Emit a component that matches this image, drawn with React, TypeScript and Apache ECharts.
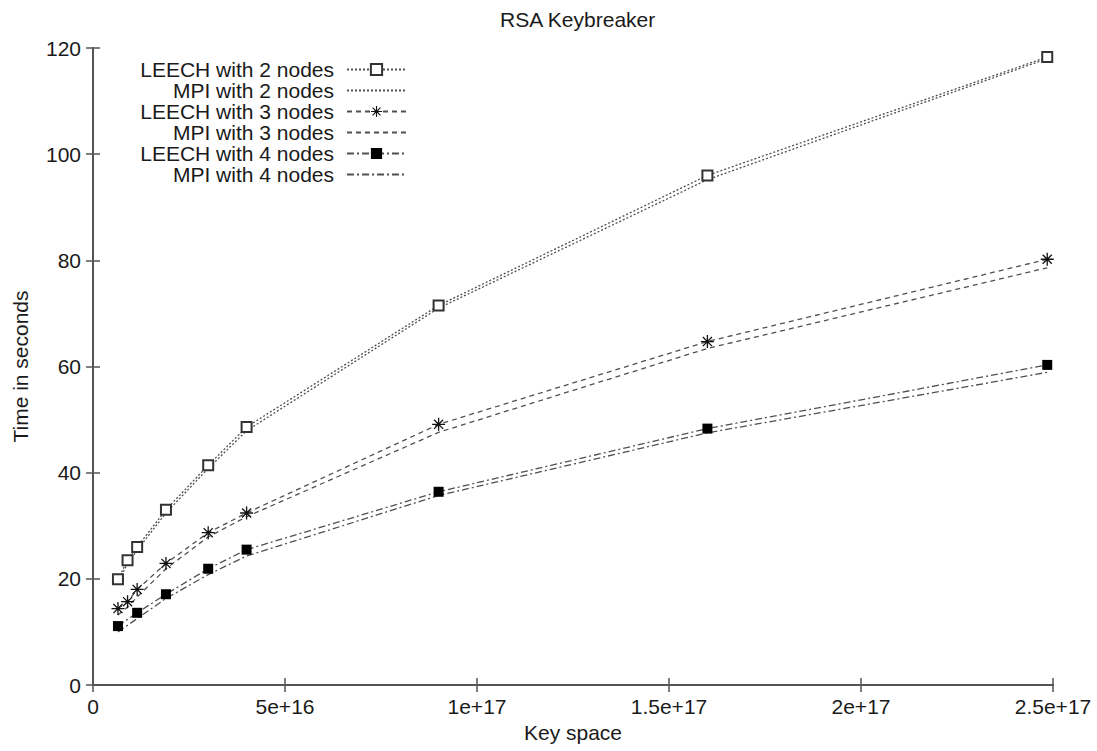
import React, { useEffect, useRef } from "react";
import * as echarts from "echarts";

const keySpace = [0.65e16, 0.9e16, 1.15e16, 1.9e16, 3.0e16, 4.0e16, 9.0e16, 1.6e17, 2.485e17];
const keySpace4 = [0.65e16, 1.15e16, 1.9e16, 3.0e16, 4.0e16, 9.0e16, 1.6e17, 2.485e17];
const leech2 = [19.9, 23.5, 26.0, 33.0, 41.4, 48.6, 71.5, 96.0, 118.3];
const mpi2 = [19.3, 22.9, 25.4, 32.4, 40.8, 47.9, 71.0, 95.2, 118.0];
const leech3 = [14.4, 15.7, 18.0, 22.9, 28.7, 32.4, 49.1, 64.7, 80.2];
const mpi3 = [13.2, 14.7, 16.6, 21.9, 27.9, 31.7, 47.6, 63.4, 78.6];
const leech4 = [11.1, 13.6, 17.1, 21.9, 25.5, 36.4, 48.3, 60.3];
const mpi4 = [10.0, 12.5, 16.3, 20.8, 24.3, 35.7, 47.5, 58.9];

const seriesNames = [
  "LEECH with 2 nodes",
  "MPI with 2 nodes",
  "LEECH with 3 nodes",
  "MPI with 3 nodes",
  "LEECH with 4 nodes",
  "MPI with 4 nodes",
];
const xTickLabels = ["0", "5e+16", "1e+17", "1.5e+17", "2e+17", "2.5e+17"];
const yTickLabels = ["0", "20", "40", "60", "80", "100", "120"];

const FONT = "'Liberation Sans', Arial, Helvetica, sans-serif";
const TXT = "#1a1a1a";
const AX = "#555";

const STAR =
  "path://M0 9 L20 9 L20 11 L0 11 Z M9 0 L11 0 L11 20 L9 20 Z M2.3 3.7 L3.7 2.3 L17.7 16.3 L16.3 17.7 Z M16.3 2.3 L17.7 3.7 L3.7 17.7 L2.3 16.3 Z";

const pairs = (xs: number[], ys: number[]) => ys.map((y, i) => [xs[i], y]);

export default function App() {
  const ref = useRef<HTMLDivElement>(null);
  useEffect(() => {
    if (!ref.current) return;
    const chart = echarts.init(ref.current, undefined, { renderer: "svg" });
    const dotted = [2, 2];
    const dashed = [5, 4];
    const dashDot = [7, 3, 2, 3];
    const lineCol = "#505050";
    const lw = 1.3;

    const series: any[] = [
      {
        name: seriesNames[0],
        type: "line",
        data: pairs(keySpace, leech2),
        symbol: "emptyRect",
        symbolSize: 10,
        itemStyle: { color: "#333", borderWidth: 1.5 },
        lineStyle: { color: lineCol, width: lw, type: dotted },
        z: 3,
      },
      {
        name: seriesNames[1],
        type: "line",
        data: pairs(keySpace, mpi2),
        symbol: "none",
        itemStyle: { color: lineCol },
        lineStyle: { color: lineCol, width: lw, type: dotted },
        z: 2,
      },
      {
        name: seriesNames[2],
        type: "line",
        data: pairs(keySpace, leech3),
        symbol: STAR,
        symbolSize: 13,
        itemStyle: { color: "#111" },
        lineStyle: { color: lineCol, width: lw, type: dashed },
        z: 3,
      },
      {
        name: seriesNames[3],
        type: "line",
        data: pairs(keySpace, mpi3),
        symbol: "none",
        itemStyle: { color: lineCol },
        lineStyle: { color: lineCol, width: lw, type: dashed },
        z: 2,
      },
      {
        name: seriesNames[4],
        type: "line",
        data: pairs(keySpace4, leech4),
        symbol: "rect",
        symbolSize: 10,
        itemStyle: { color: "#000" },
        lineStyle: { color: lineCol, width: lw, type: dashDot },
        z: 3,
      },
      {
        name: seriesNames[5],
        type: "line",
        data: pairs(keySpace4, mpi4),
        symbol: "none",
        itemStyle: { color: lineCol },
        lineStyle: { color: lineCol, width: lw, type: dashDot },
        z: 2,
      },
    ];

    const legends = seriesNames.map((n, i) => ({
      data: [n],
      orient: "horizontal",
      right: 690,
      top: 59 + 21 * i,
      align: "right",
      itemWidth: 59,
      itemHeight: 14,
      padding: 0,
      selectedMode: false,
      textStyle: {
        fontSize: 21,
        lineHeight: 20,
        color: TXT,
        fontFamily: FONT,
        padding: [0, 8, 0, 0],
      },
      ...(i % 2 === 1 ? { itemStyle: { opacity: 0 } } : {}),
    }));

    const axisLine = { show: true, lineStyle: { color: AX, width: 2 } };
    const axisTick = { show: true, inside: true, length: 7, lineStyle: { color: AX, width: 1.5 } };
    const labelStyle = { fontSize: 21, color: TXT, fontFamily: FONT };

    chart.setOption({
      animation: false,
      backgroundColor: "#fff",
      title: {
        text: "RSA Keybreaker",
        left: 495,
        top: 4,
        textStyle: { fontSize: 21, fontWeight: "normal", color: TXT, fontFamily: FONT },
      },
      legend: legends,
      grid: { left: 93, top: 48, right: 44, bottom: 66, containLabel: false },
      xAxis: [
        {
          type: "value",
          position: "bottom",
          min: 0,
          max: 2.5e17,
          interval: 5e16,
          axisLine,
          axisTick,
          splitLine: { show: false },
          axisLabel: {
            ...labelStyle,
            margin: 11,
            formatter: (_v: number, idx: number) => xTickLabels[idx],
          },
          name: "Key space",
          nameLocation: "middle",
          nameGap: 24,
          nameTextStyle: labelStyle,
        },
        {
          type: "value",
          position: "top",
          min: 0,
          max: 2.5e17,
          interval: 5e16,
          axisLine,
          axisTick,
          splitLine: { show: false },
          axisLabel: { show: false },
        },
      ],
      yAxis: [
        {
          type: "value",
          position: "left",
          min: 0,
          max: 120,
          interval: 20,
          axisLine,
          axisTick,
          splitLine: { show: false },
          axisLabel: {
            ...labelStyle,
            margin: 12,
            formatter: (_v: number, idx: number) => yTickLabels[idx],
          },
          name: "Time in seconds",
          nameLocation: "middle",
          nameGap: 62,
          nameTextStyle: labelStyle,
        },
        {
          type: "value",
          position: "right",
          min: 0,
          max: 120,
          interval: 20,
          axisLine,
          axisTick,
          splitLine: { show: false },
          axisLabel: { show: false },
        },
      ],
      series,
    });
    return () => chart.dispose();
  }, []);
  return (
    <div
      ref={ref}
      style={{ position: "fixed", left: 0, top: 0, width: 1097, height: 751, background: "#fff" }}
    />
  );
}
